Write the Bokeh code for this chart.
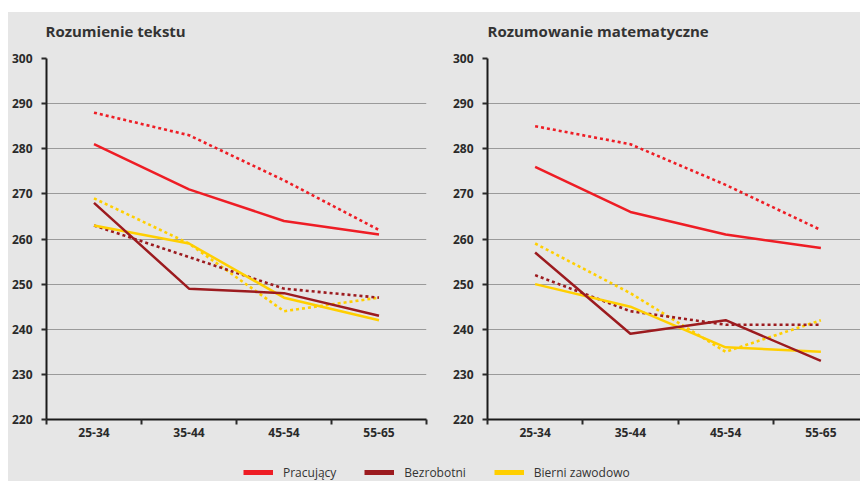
from bokeh.plotting import figure
from bokeh.models import Range1d, FixedTicker, SingleIntervalTicker, Legend, LegendItem, Spacer, Label
from bokeh.layouts import column, row
from bokeh.embed import file_html
from bokeh.resources import INLINE

# ---------------- data ----------------
categories = ["25-34", "35-44", "45-54", "55-65"]
series_names = ["Pracujący", "Bezrobotni", "Bierni zawodowo"]
panel_titles = ["Rozumienie tekstu", "Rozumowanie matematyczne"]

# Rozumienie tekstu
text_pracujacy_solid = [281, 271, 264, 261]
text_pracujacy_dotted = [288, 283, 273, 262]
text_bezrobotni_solid = [268, 249, 248, 243]
text_bezrobotni_dotted = [263, 256, 249, 247]
text_bierni_solid = [263, 259, 247, 242]
text_bierni_dotted = [269, 259, 244, 247]

# Rozumowanie matematyczne
math_pracujacy_solid = [276, 266, 261, 258]
math_pracujacy_dotted = [285, 281, 272, 262]
math_bezrobotni_solid = [257, 239, 242, 233]
math_bezrobotni_dotted = [252, 244, 241, 241]
math_bierni_solid = [250, 245, 236, 235]
math_bierni_dotted = [259, 248, 235, 242]

y_min, y_max, y_step = 220, 300, 10

# ---------------- style ----------------
BG = "#e6e6e6"
RED = "#ee1d25"
DARK = "#9c1b1f"
YELLOW = "#ffcf00"
INK = "#2a2a2a"
FONT = "Open Sans"

colors = {"Pracujący": RED, "Bezrobotni": DARK, "Bierni zawodowo": YELLOW}

xs = list(range(len(categories)))


def make_panel(solid, dotted, width, border_left, border_right, x_end):
    p = figure(width=width, height=396, output_backend="svg", toolbar_location=None,
               x_range=Range1d(-0.5, x_end), y_range=Range1d(y_min, y_max),
               min_border_left=border_left, min_border_right=border_right,
               min_border_top=10, min_border_bottom=25,
               background_fill_color=BG, border_fill_color=BG, outline_line_color=None)

    # x axis: labels at category centres, ticks at boundaries
    ax = p.xaxis[0]
    ax.ticker = FixedTicker(ticks=xs, minor_ticks=[i - 0.5 for i in range(len(categories) + 1)])
    ax.major_label_overrides = {i: c for i, c in enumerate(categories)}
    ax.major_tick_out = 0
    ax.major_tick_in = 0
    ax.minor_tick_out = 5
    ax.minor_tick_in = 0
    ax.minor_tick_line_width = 2
    ax.minor_tick_line_color = INK
    ax.axis_line_width = 2
    ax.axis_line_color = "#1a1a1a"
    ax.major_label_standoff = 3
    ax.major_label_text_font = FONT
    ax.major_label_text_font_size = "12px"
    ax.major_label_text_font_style = "bold"
    ax.major_label_text_color = INK

    ay = p.yaxis[0]
    ay.ticker = SingleIntervalTicker(interval=y_step, num_minor_ticks=0)
    ay.major_tick_out = 5
    ay.major_tick_in = 0
    ay.major_tick_line_width = 2
    ay.major_tick_line_color = INK
    ay.minor_tick_line_color = None
    ay.axis_line_width = 2
    ay.axis_line_color = "#1a1a1a"
    ay.major_label_standoff = 9
    ay.major_label_text_font = FONT
    ay.major_label_text_font_size = "12px"
    ay.major_label_text_font_style = "bold"
    ay.major_label_text_color = INK

    p.xgrid.visible = False
    p.ygrid.grid_line_color = "#9a9a9a"
    p.ygrid.grid_line_width = 1.2

    for name in ["Bierni zawodowo", "Bezrobotni", "Pracujący"]:
        p.line(xs, dotted[name], line_color=colors[name], line_width=2.6, line_dash="3 3")
    for name in ["Bierni zawodowo", "Bezrobotni", "Pracujący"]:
        p.line(xs, solid[name], line_color=colors[name], line_width=2.5)
    return p


# title strip
top = figure(width=852, height=36, output_backend="svg", toolbar_location=None,
             x_range=Range1d(0, 1), y_range=Range1d(0, 1), min_border=0,
             background_fill_color=BG, border_fill_color=BG, outline_line_color=None,
             x_axis_location=None, y_axis_location=None)
top.xgrid.visible = False
top.ygrid.visible = False
for tx, t in zip([37, 479], panel_titles):
    top.add_layout(Label(x=tx, y=18, x_units="screen", y_units="screen", text=t,
                         text_font=FONT, text_font_size="15px", text_font_style="bold",
                         text_color="#333333", text_baseline="middle", text_align="left"))

p1 = make_panel({"Pracujący": text_pracujacy_solid, "Bezrobotni": text_bezrobotni_solid,
                 "Bierni zawodowo": text_bierni_solid},
                {"Pracujący": text_pracujacy_dotted, "Bezrobotni": text_bezrobotni_dotted,
                 "Bierni zawodowo": text_bierni_dotted},
                width=422, border_left=37, border_right=4, x_end=3.5)

p2 = make_panel({"Pracujący": math_pracujacy_solid, "Bezrobotni": math_bezrobotni_solid,
                 "Bierni zawodowo": math_bierni_solid},
                {"Pracujący": math_pracujacy_dotted, "Bezrobotni": math_bezrobotni_dotted,
                 "Bierni zawodowo": math_bierni_dotted},
                width=430, border_left=57, border_right=0, x_end=-0.5 + 373 * 4 / 381)

# legend strip (its lines lie outside the visible range; only the legend shows)
legend_values = {"Pracujący": text_pracujacy_solid, "Bezrobotni": text_bezrobotni_solid,
                 "Bierni zawodowo": text_bierni_solid}
lg = figure(width=852, height=37, output_backend="svg", toolbar_location=None,
            x_range=Range1d(0, 1), y_range=Range1d(0, 1), min_border=0,
            background_fill_color=BG, border_fill_color=BG, outline_line_color=None,
            x_axis_location=None, y_axis_location=None)
lg.xgrid.visible = False
lg.ygrid.visible = False
items = []
for name in series_names:
    r = lg.line(xs, legend_values[name], line_color=colors[name], line_width=5)
    items.append(LegendItem(label=name, renderers=[r]))
legend = Legend(items=items, orientation="horizontal", location=(235, -1),
                glyph_width=30, glyph_height=20, label_standoff=10, spacing=28,
                padding=0, margin=0, background_fill_alpha=0, border_line_color=None,
                label_text_font=FONT, label_text_font_size="12px", label_text_color="#333333")
lg.add_layout(legend)

panels = row(p1, p2, spacing=0, styles={"background-color": BG})
inner = column(top, panels, lg, spacing=0, styles={"background-color": BG})
layout = row(Spacer(width=8), column(Spacer(height=12), inner, spacing=0), spacing=0)

open("out.html", "w").write(file_html(layout, INLINE))
